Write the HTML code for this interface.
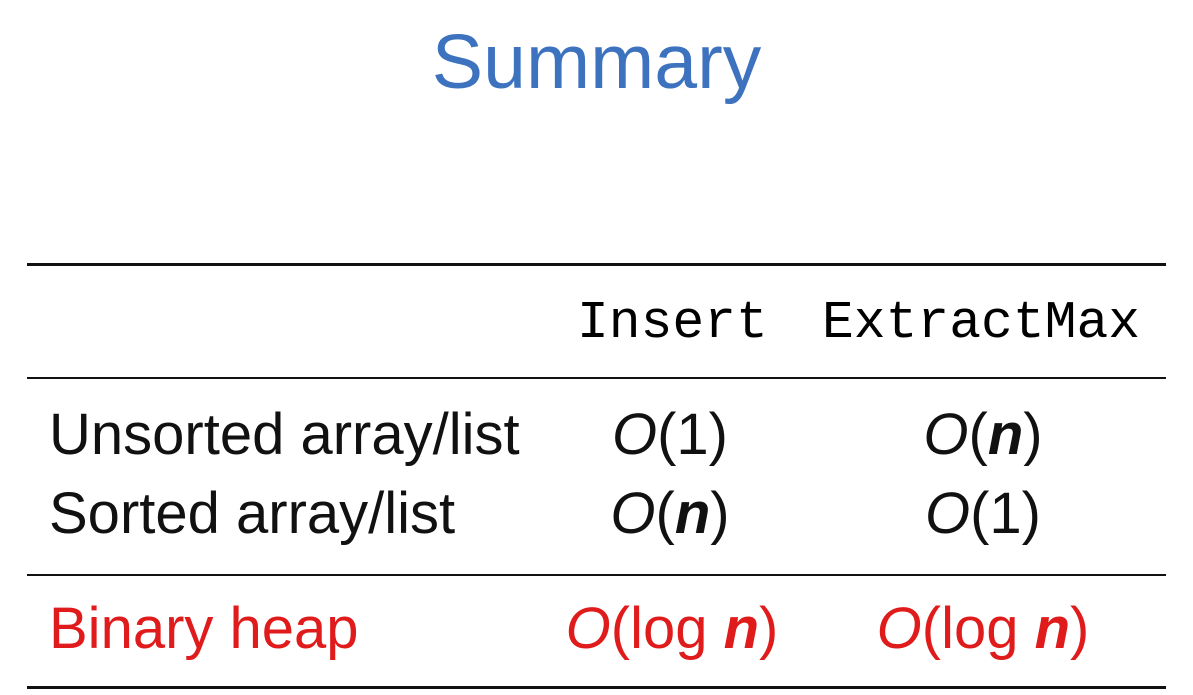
<!DOCTYPE html>
<html><head><meta charset="utf-8"><style>
body{margin:0;width:1193px;height:695px;background:#fff;position:relative;overflow:hidden;font-family:"Liberation Sans",sans-serif;}
.t{position:absolute;line-height:1;white-space:nowrap;}
.rule{position:absolute;left:27px;width:1139px;background:#111;}
.c1{left:560px;width:220px;text-align:center;}
.c2{left:873px;width:220px;text-align:center;}
.m{font-family:"Liberation Mono",monospace;font-size:53px;}
.s{font-size:58px;color:#111;}
.r{color:#e01b1b;}
i{font-style:italic;}
</style></head><body>
<div class="t" style="left:0;width:1193px;text-align:center;top:24px;font-size:77px;color:#3d72bf;">Summary</div>
<div class="rule" style="top:263px;height:3px"></div>
<div class="rule" style="top:377px;height:2px"></div>
<div class="rule" style="top:574px;height:2px"></div>
<div class="rule" style="top:686px;height:3px"></div>
<div class="t m" style="top:297px;left:577px">Insert</div>
<div class="t m" style="top:297px;left:822px">ExtractMax</div>
<div class="t s" style="left:49px;top:406px">Unsorted array/list</div>
<div class="t s" style="left:49px;top:485px">Sorted array/list</div>
<div class="t s r" style="left:49px;top:600px">Binary heap</div>
<div class="t s c1" style="top:406px"><i>O</i>(1)</div>
<div class="t s c2" style="top:406px"><i>O</i>(<i><b>n</b></i>)</div>
<div class="t s c1" style="top:485px"><i>O</i>(<i><b>n</b></i>)</div>
<div class="t s c2" style="top:485px"><i>O</i>(1)</div>
<div class="t s c1 r" style="top:600px;left:562px"><i>O</i>(log <i><b>n</b></i>)</div>
<div class="t s c2 r" style="top:600px"><i>O</i>(log <i><b>n</b></i>)</div>
</body></html>
